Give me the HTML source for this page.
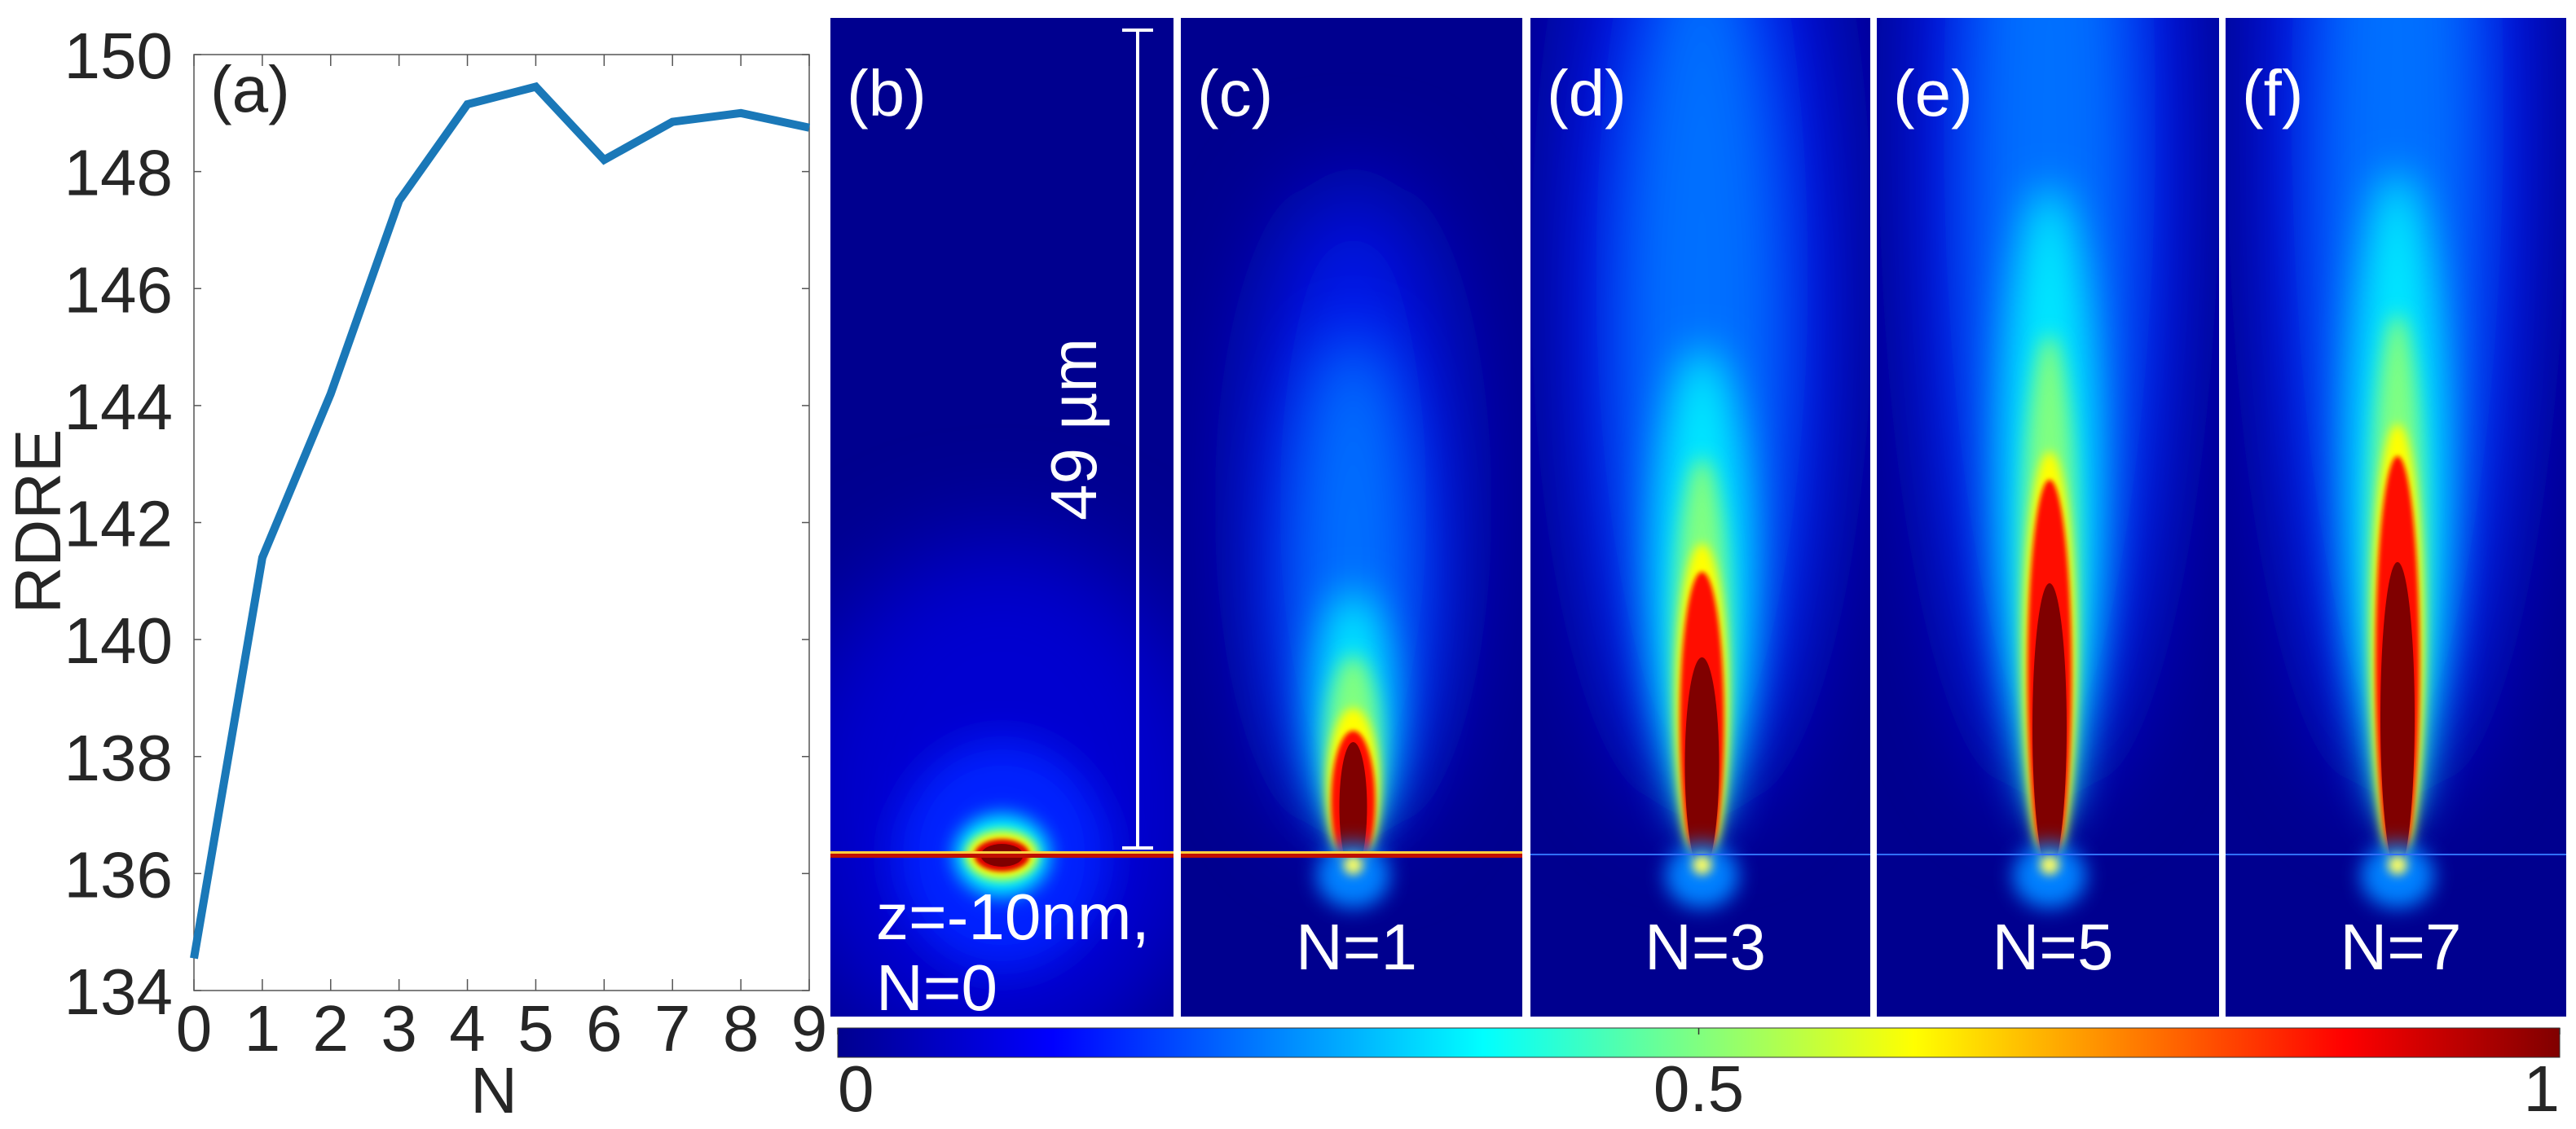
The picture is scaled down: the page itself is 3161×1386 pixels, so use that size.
<!DOCTYPE html>
<html><head><meta charset="utf-8"><style>
html,body{margin:0;padding:0;background:#fff;overflow:hidden;width:3161px;height:1386px;}
svg{display:block;}
svg text{font-family:"Liberation Sans",Arial,sans-serif;}
</style></head><body>
<svg id="fig" width="3161" height="1386" viewBox="0 0 3161 1386" xmlns="http://www.w3.org/2000/svg">
<defs>
  <linearGradient id="jet" x1="0" x2="1" y1="0" y2="0">
    <stop offset="0" stop-color="#00008f"/>
    <stop offset="0.125" stop-color="#0000ff"/>
    <stop offset="0.375" stop-color="#00ffff"/>
    <stop offset="0.5" stop-color="#80ff80"/>
    <stop offset="0.625" stop-color="#ffff00"/>
    <stop offset="0.875" stop-color="#ff0000"/>
    <stop offset="1" stop-color="#800000"/>
  </linearGradient>
  <filter id="b60" x="-1" y="-1" width="3" height="3"><feGaussianBlur stdDeviation="60"/></filter>
  <filter id="b40" x="-1" y="-1" width="3" height="3"><feGaussianBlur stdDeviation="40"/></filter>
  <filter id="b25" x="-1" y="-1" width="3" height="3"><feGaussianBlur stdDeviation="25"/></filter>
  <filter id="b12" x="-1" y="-1" width="3" height="3"><feGaussianBlur stdDeviation="12"/></filter>
  <filter id="b6" x="-1" y="-1" width="3" height="3"><feGaussianBlur stdDeviation="6"/></filter>
  <filter id="b3" x="-1" y="-1" width="3" height="3"><feGaussianBlur stdDeviation="3"/></filter>
</defs>
<g id="plotA"></g>
<g id="panels"></g>
<g id="cbar"></g>
</svg>
<script>
const xCategories = [0,1,2,3,4,5,6,7,8,9];
const rdreValues = [134.55,141.4,144.2,147.5,149.15,149.45,148.2,148.85,149.0,148.75];
const yTicks = [134,136,138,140,142,144,146,148,150];
const xTicks = [0,1,2,3,4,5,6,7,8,9];
const cbarTicks = [0,0.5,1];
const NS='http://www.w3.org/2000/svg';
function el(tag,attrs,parent,text){const e=document.createElementNS(NS,tag);for(const k in attrs)e.setAttribute(k,attrs[k]);if(text!==undefined)e.textContent=text;parent.appendChild(e);return e;}
const FS=80;
const L=238,R=993,T=67,B=1216;
const xs=v=>L+(v-0)/(9-0)*(R-L);
const ys=v=>B-(v-134)/(150-134)*(B-T);
const A=document.getElementById('plotA');
let r=el('rect',{x:L,y:T,width:R-L,height:B-T,fill:'#fff',stroke:'#555','stroke-width':1.5},A);


yTicks.forEach(v=>{
  const y=ys(v);
  el('line',{x1:L,x2:L+9,y1:y,y2:y,stroke:'#555','stroke-width':1.5},A);
  el('line',{x1:R,x2:R-9,y1:y,y2:y,stroke:'#555','stroke-width':1.5},A);
  const t=el('text',{x:212,y:y+29,'text-anchor':'end','font-size':FS,fill:'#262626'},A,String(v));
  
  
});
xTicks.forEach(v=>{
  const x=xs(v);
  el('line',{x1:x,x2:x,y1:B,y2:B-14,stroke:'#555','stroke-width':1.5},A);
  el('line',{x1:x,x2:x,y1:T,y2:T+14,stroke:'#555','stroke-width':1.5},A);
  const t=el('text',{x:x,y:1290,'text-anchor':'middle','font-size':FS,fill:'#262626'},A,String(v));
  
  
});
const pts=xCategories.map((c,i)=>xs(c)+','+ys(rdreValues[i])).join(' ');
const line=el('polyline',{points:pts,fill:'none',stroke:'#1a78b8','stroke-width':10,'stroke-linejoin':'miter'},A);


let t=el('text',{x:606,y:1366,'text-anchor':'middle','font-size':FS,fill:'#262626'},A,'N');


t=el('text',{x:0,y:0,'text-anchor':'middle','font-size':FS,fill:'#262626',transform:'translate(74,640) rotate(-90)'},A,'RDRE');


t=el('text',{x:258,y:137,'font-size':FS,fill:'#262626'},A,'(a)');



// field panels
const panelX=[1019,1449,1878,2303,2731];
const panelW=[421,419,417,420,418];
const panelLabels=['(b)','(c)','(d)','(e)','(f)'];
const panelN=['N=0','N=1','N=3','N=5','N=7'];
const coreTop=[1030,911,807,716,690];
const redTop=[1022,897,702,589,560];
const yellowTop=[1012,869,667,554,520];
const cyanTop=[990,740,456,267,250];
const PT=22,PB=1248,SURF=1050;
const P=document.getElementById('panels');
panelX.forEach((x0,i)=>{
  const g=el('g',{},P);
  
  
  const cid='clip'+i;
  const cp=el('clipPath',{id:cid},g);el('rect',{x:x0,y:PT,width:panelW[i],height:PB-PT},cp);
  const c=el('g',{'clip-path':'url(#'+cid+')'},g);
  el('rect',{x:x0,y:PT,width:panelW[i],height:PB-PT,fill:'#00008f'},c);
  const cx=x0+panelW[i]/2+(i===0?0:2);
  if(i===0){
    el('ellipse',{cx:cx,cy:SURF-60,rx:260,ry:330,fill:'#0000d0',filter:'url(#b60)'},c);
    el('ellipse',{cx:cx,cy:SURF,rx:130,ry:140,fill:'#0020ff',filter:'url(#b25)'},c);
    el('ellipse',{cx:cx,cy:SURF,rx:58,ry:50,fill:'#00ffff',filter:'url(#b12)'},c);
    el('ellipse',{cx:cx,cy:SURF,rx:44,ry:30,fill:'#ffff00',filter:'url(#b6)'},c);
    el('ellipse',{cx:cx,cy:SURF,rx:34,ry:20,fill:'#e00000',filter:'url(#b3)'},c);
    el('ellipse',{cx:cx,cy:SURF,rx:26,ry:14,fill:'#800000'},c);
  } else {
    const top=cyanTop[i];
    const H=SURF-top;
    el('ellipse',{cx:cx,cy:top-120,rx:i===1?130:170,ry:H*0.9+120,fill:'#0018ee',filter:'url(#b60)'},c);
    el('ellipse',{cx:cx,cy:top-40,rx:i===1?80:105,ry:H*0.75+60,fill:'#0070ff',filter:'url(#b40)'},c);
    el('ellipse',{cx:cx,cy:top+H*0.45,rx:i===1?48:60,ry:H*0.5,fill:'#00e8ff',filter:'url(#b25)'},c);
    el('ellipse',{cx:cx,cy:(yellowTop[i]+cyanTop[i])/2+ (SURF-(yellowTop[i]+cyanTop[i])/2)/2,rx:34,ry:(SURF-(yellowTop[i]+cyanTop[i])/2)/2,fill:'#80ff80',filter:'url(#b12)'},c);
    el('ellipse',{cx:cx,cy:(yellowTop[i]+SURF)/2+10,rx:32,ry:(SURF-yellowTop[i])/2+10,fill:'#ffff00',filter:'url(#b6)'},c);
    el('ellipse',{cx:cx,cy:(redTop[i]+SURF)/2+10,rx:27,ry:(SURF-redTop[i])/2+10,fill:'#ff1000',filter:'url(#b3)'},c);
    el('ellipse',{cx:cx,cy:(coreTop[i]+SURF)/2+10,rx:i===1?17:21,ry:(SURF-coreTop[i])/2+10,fill:'#800000'},c);
    el('ellipse',{cx:cx,cy:SURF+25,rx:45,ry:40,fill:'#0080ff',filter:'url(#b12)'},c);
    el('ellipse',{cx:cx,cy:SURF+12,rx:12,ry:12,fill:'#ffff60',filter:'url(#b6)'},c);
  }
  el('rect',{x:x0,y:SURF-2,width:panelW[i],height:i<2?5:2,fill:i<2?'#c01000':'#3070ff'},c);
  if(i<2) el('rect',{x:x0,y:SURF-5,width:panelW[i],height:3,fill:'#ffd040'},c);
  const lt=el('text',{x:x0+20,y:142,'font-size':FS,fill:'#fff'},g,panelLabels[i]);
  
  
  if(i===0){
    let a=el('text',{x:1075,y:1153,'font-size':FS,fill:'#fff'},g,'z=-10nm,');
    
    
    a=el('text',{x:1075,y:1240,'font-size':FS,fill:'#fff'},g,'N=0');
    
    
  } else {
    const a=el('text',{x:cx+4,y:1190,'text-anchor':'middle','font-size':FS,fill:'#fff'},g,panelN[i]);
    
    
  }
});
// scale bar
const sb=el('g',{stroke:'#fff','stroke-width':4},P);


el('line',{x1:1396,x2:1396,y1:37,y2:1041},sb);
el('line',{x1:1377,x2:1415,y1:37,y2:37},sb);
el('line',{x1:1377,x2:1415,y1:1041,y2:1041},sb);
t=el('text',{x:0,y:0,'text-anchor':'middle','font-size':FS,fill:'#fff',transform:'translate(1345,527) rotate(-90)'},P,'49 µm');



// colorbar
const C=document.getElementById('cbar');
const CL=1028,CR=3141;
r=el('rect',{x:CL,y:1262,width:CR-CL,height:36,fill:'url(#jet)',stroke:'#333','stroke-width':1},C);


cbarTicks.forEach((v,i)=>{
  const x=CL+v*(CR-CL);
  el('line',{x1:x,x2:x,y1:1262,y2:1270,stroke:'#333','stroke-width':1.5},C);
  const anchor=i===0?'start':(i===cbarTicks.length-1?'end':'middle');
  const tt=el('text',{x:x,y:1364,'text-anchor':anchor,'font-size':FS,fill:'#262626'},C,String(v));
  
  
});
</script>
</body></html>
